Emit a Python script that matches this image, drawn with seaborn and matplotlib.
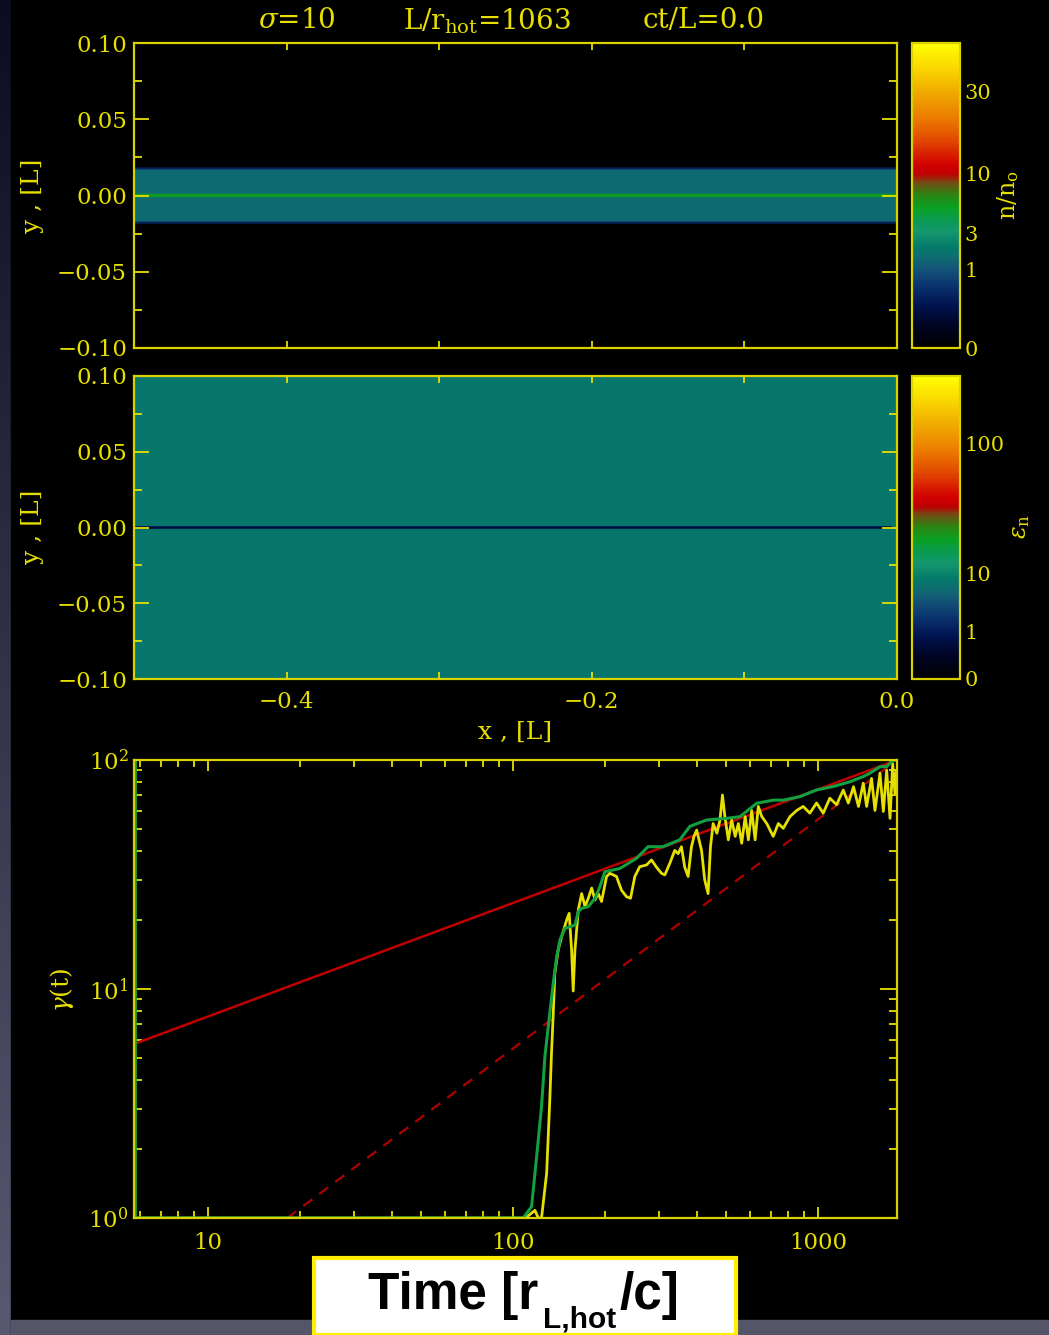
import numpy as np
import matplotlib
matplotlib.use("Agg")
import matplotlib.pyplot as plt
import matplotlib.colors as mcolors
from matplotlib.patches import Rectangle
from matplotlib.ticker import LogLocator, FuncFormatter, NullFormatter, FixedLocator
import seaborn as sns

# ---------------------------------------------------------------- data
# density layers across the current sheet (y in units of L)
dens_bounds = [-0.1, -0.0185, -0.0172, -0.0011, 0.0011, 0.0172, 0.0185, 0.1]
dens_values = [0.0, 0.3, 1.5, 5.5, 1.5, 0.3, 0.0]
dens_vmax = 49.0
dens_ticks = [0, 1, 3, 10, 30]
dens_ticklabels = ["0", "1", "3", "10", "30"]

# mean particle energy layers
eps_bounds = [-0.1, -0.0009, 0.0009, 0.1]
eps_values = [8.0, 0.5, 8.0]
eps_sheet_xend = -0.004
eps_vmax = 205.0
eps_ticks = [0, 1, 3, 10, 30, 100]
eps_ticklabels = ["0", "1", "", "10", "", "100"]

color_power = 0.35

x_ticks_major = [-0.4, -0.2, 0.0]
x_ticks_minor = [-0.3, -0.1]
y_ticks_major = [-0.1, -0.05, 0.0, 0.05, 0.1]
y_ticks_minor = [-0.075, -0.025, 0.025, 0.075]

# Lorentz factor histories
t_envelope = [5.78, 5.78, 108, 115, 119.5, 124, 127.2, 132, 135.5, 139, 142.6, 148,
              153.7, 159.6, 163.7, 167.9, 176.5, 185.7, 192.8, 200, 224, 254, 277,
              310, 352, 380, 431, 502, 555, 629, 713, 769, 873, 989, 1122, 1273,
              1407, 1480, 1596, 1679, 1743, 1787, 1815]
gamma_envelope = [100, 1.0, 1.0, 1.12, 1.85, 3.06, 5.06, 7.83, 10.6, 13.8, 16.4, 18.4,
                  18.7, 19.0, 21.8, 22.5, 22.9, 24.9, 28.0, 32.5, 33.6, 37.2, 41.8,
                  41.8, 44.8, 51.3, 54.7, 55.6, 56.6, 64.7, 66.8, 66.8, 69.2, 74.0,
                  76.6, 80.4, 84.7, 87.6, 93.5, 93.5, 98.5, 100, 100]

t_particle = [5.72, 108, 112, 118, 121, 124, 128.9, 132, 133.7, 135.5, 137.1, 140.6,
              144.3, 149.9, 152.8, 155.6, 157.5, 159.6, 163.7, 167.9, 172.2, 176.5,
              181.1, 185.7, 190.3, 195.1, 202.6, 207.8, 218.4, 226.8, 235.5, 242.8,
              250.8, 260.3, 273.9, 284.5, 295.5, 306.7, 314.6, 326.6, 339, 347.8,
              356.6, 365.6, 375, 384.6, 392, 400, 415, 425, 436, 444, 453, 466, 477,
              486, 495, 508, 521, 535, 548, 562, 577, 591, 606, 622, 637, 654, 679,
              713, 741, 769, 809, 851, 894, 940, 989, 1040, 1093, 1150, 1210, 1257,
              1307, 1357, 1407, 1443, 1498, 1537, 1596, 1637, 1679, 1722, 1757,
              1787, 1808]
gamma_particle = [1.0, 1.0, 1.02, 1.08, 1.0, 1.0, 1.57, 3.28, 5.24, 7.83, 11.7, 14.8,
                  16.9, 20.0, 21.4, 14.8, 9.8, 14.8, 22.2, 26.1, 22.9, 24.9,
                  27.6, 24.5, 26.1, 24.1, 31.0, 32.0, 31.0, 27.0, 25.3, 24.9,
                  31.0, 34.2, 34.8, 36.6, 34.0, 32.0, 31.5, 35.4, 40.3, 39.0,
                  41.8, 34.0, 31.0, 41.8, 46.4, 49.4, 40.3, 30.0, 26.1, 41.8, 52.8, 47.9,
                  54.7, 70.3, 56.6, 44.8, 54.7, 46.4, 52.8, 43.3, 56.6, 44.8, 60.2, 44.8,
                  62.7, 56.6, 52.8, 46.4, 52.8, 50.3, 56.6, 60.2, 62.7, 58.6, 64.9, 58.6,
                  68.1, 63.8, 73.9, 64.9, 76.4, 62.7, 79.2, 62.7, 83.1, 60.2, 87.6,
                  59.6, 90.2, 55.6, 96.2, 71.6, 90.2]

# reference power laws (endpoints)
t_sqrt_law = [5.72, 1815]
gamma_sqrt_law = [5.75, 100]
t_linear_law = [18.2, 1815]
gamma_linear_law = [1.0, 100]

# ---------------------------------------------------------------- style
sns.set_theme(style="dark")
plt.rcParams["font.family"] = ["DejaVu Serif", "DejaVu Sans"]
plt.rcParams["mathtext.fontset"] = "dejavuserif"

YEL = "#e6df00"
SPINE = "#d9d200"

W, H = 1049, 1335


def fx(px):
    return px / W


def fy(py):
    return 1 - py / H


cmap = mcolors.LinearSegmentedColormap.from_list("idl_like", [
    (0.00, (0, 0, 0)),
    (0.08, (0, 5 / 255, 40 / 255)),
    (0.14, (0, 20 / 255, 80 / 255)),
    (0.20, (10 / 255, 50 / 255, 110 / 255)),
    (0.26, (20 / 255, 85 / 255, 120 / 255)),
    (0.30, (14 / 255, 110 / 255, 112 / 255)),
    (0.33, (4 / 255, 122 / 255, 106 / 255)),
    (0.38, (20 / 255, 150 / 255, 110 / 255)),
    (0.42, (10 / 255, 155 / 255, 80 / 255)),
    (0.46, (10 / 255, 160 / 255, 35 / 255)),
    (0.50, (40 / 255, 135 / 255, 20 / 255)),
    (0.54, (110 / 255, 80 / 255, 20 / 255)),
    (0.57, (190 / 255, 0, 0)),
    (0.60, (210 / 255, 0, 0)),
    (0.68, (225 / 255, 70 / 255, 0)),
    (0.75, (235 / 255, 120 / 255, 0)),
    (0.84, (240 / 255, 170 / 255, 0)),
    (0.92, (250 / 255, 215 / 255, 0)),
    (1.00, (1, 1, 0)),
])

fig = plt.figure(figsize=(W / 100, H / 100), dpi=100)
fig.patch.set_facecolor("#4a4a5e")

# page background: soft grey-blue gradient with a black stage
bg = fig.add_axes([0, 0, 1, 1], zorder=-10)
grad = np.linspace(0, 1, 256).reshape(-1, 1)
bg.imshow(grad, aspect="auto", extent=[0, 1, 0, 1], origin="upper",
          cmap=mcolors.LinearSegmentedColormap.from_list("bg", ["#0c0c22", "#585870"]))
bg.add_patch(Rectangle((fx(11), 0), 1, 1, color="black", transform=bg.transAxes))
bg.add_patch(Rectangle((fx(11), 0), 1, fy(1320), color="#55556a", transform=bg.transAxes))
bg.set_xlim(0, 1)
bg.set_ylim(0, 1)
bg.axis("off")


def style_axes(ax):
    ax.set_facecolor("black")
    ax.grid(False)
    for s in ax.spines.values():
        s.set_color(SPINE)
        s.set_linewidth(1.6)
        s.set_visible(True)


def field(bounds, values, nx=500, ny=1001, sheet_xend=None, bg_value=None):
    y = np.linspace(-0.1, 0.1, ny)
    x = np.linspace(-0.5, 0.0, nx)
    idx = np.clip(np.searchsorted(bounds, y, side="right") - 1, 0, len(values) - 1)
    rows = np.asarray(values)[idx]
    f = np.tile(rows[:, None], (1, nx))
    if sheet_xend is not None:
        f[:, x > sheet_xend] = bg_value
    return f


def map_panel(ax, data, vmax):
    norm = mcolors.FuncNorm((lambda v: np.power(np.clip(v, 0, None), color_power),
                             lambda v: np.power(np.clip(v, 0, None), 1 / color_power)),
                            vmin=0, vmax=vmax)
    im = ax.imshow(data, origin="lower", extent=[-0.5, 0.0, -0.1, 0.1], aspect="auto",
                   cmap=cmap, norm=norm, interpolation="bilinear")
    ax.set_xlim(-0.5, 0.0)
    ax.set_ylim(-0.1, 0.1)
    style_axes(ax)
    ax.yaxis.set_major_locator(FixedLocator(y_ticks_major))
    ax.yaxis.set_minor_locator(FixedLocator(y_ticks_minor))
    ax.set_yticklabels([f"{v:.2f}".replace("-", "\u2212") for v in y_ticks_major])
    ax.xaxis.set_major_locator(FixedLocator(x_ticks_major))
    ax.xaxis.set_minor_locator(FixedLocator(x_ticks_minor))
    ax.tick_params(axis="y", which="major", direction="in", length=11, width=1.3,
                   left=True, right=True, colors=YEL, labelsize=16.5, pad=5)
    ax.tick_params(axis="y", which="minor", direction="in", length=6, width=1.3,
                   left=True, right=True, colors=YEL)
    ax.tick_params(axis="x", which="both", direction="in", length=5, width=1.3,
                   top=True, bottom=True, colors=YEL, labelsize=16.5, pad=9)
    return im


def colorbar(im, rect, ticks, labels, label, label_xy):
    cax = fig.add_axes(rect)
    cb = fig.colorbar(im, cax=cax)
    cb.minorticks_off()
    cb.set_ticks(ticks)
    cb.set_ticklabels(labels)
    cb.outline.set_edgecolor(SPINE)
    cb.outline.set_linewidth(1.6)
    cax.tick_params(which="both", direction="in", left=True, right=True, length=7,
                    width=1.3, colors=YEL, labelsize=15, pad=3)
    fig.text(fx(label_xy[0]), fy(label_xy[1]), label, rotation=90, color=YEL,
             fontsize=17, ha="center", va="center")


# ---------------------------------------------------------------- density map
ax1 = fig.add_axes([fx(134), fy(348), fx(897 - 134), (348 - 43) / H])
im1 = map_panel(ax1, field(dens_bounds, dens_values), dens_vmax)
ax1.set_xticklabels([])
colorbar(im1, [fx(912), fy(348), fx(960 - 912), (348 - 43) / H],
         dens_ticks, dens_ticklabels, r"n/n$_{\rm o}$", (1008, 195))

# ---------------------------------------------------------------- energy map
ax2 = fig.add_axes([fx(134), fy(679), fx(897 - 134), (679 - 376) / H])
im2 = map_panel(ax2, field(eps_bounds, eps_values, sheet_xend=eps_sheet_xend,
                           bg_value=eps_values[0]), eps_vmax)
ax2.set_xticklabels(["\u22120.4", "\u22120.2", "0.0"])
colorbar(im2, [fx(912), fy(679), fx(960 - 912), (679 - 376) / H],
         eps_ticks, eps_ticklabels, r"$\epsilon_{\rm n}$", (1020, 527))

for yc in (196, 527):
    fig.text(fx(32), fy(yc), "y , [L]", rotation=90, color=YEL, fontsize=18,
             ha="center", va="center")
fig.text(fx(515), fy(732), "x , [L]", color=YEL, fontsize=18, ha="center", va="center")

# title line
fig.text(fx(297), fy(20), r"$\sigma$=10", color=YEL, fontsize=20, ha="center", va="center")
fig.text(fx(487), fy(21), r"L/r$_{\rm hot}$=1063", color=YEL, fontsize=20,
         ha="center", va="center")
fig.text(fx(704), fy(20), "ct/L=0.0", color=YEL, fontsize=20, ha="center", va="center")

# ---------------------------------------------------------------- gamma(t)
ax3 = fig.add_axes([fx(134), fy(1218), fx(897 - 134), (1218 - 760) / H])
style_axes(ax3)
ax3.set_xscale("log")
ax3.set_yscale("log")

sns.lineplot(x=t_linear_law, y=gamma_linear_law, ax=ax3, color="#b00000", lw=1.6,
             linestyle=(0, (5, 4)), estimator=None, sort=False)
sns.lineplot(x=t_sqrt_law, y=gamma_sqrt_law, ax=ax3, color="#c00000", lw=1.8,
             estimator=None, sort=False)
sns.lineplot(x=t_particle, y=gamma_particle, ax=ax3, color="#e6e000", lw=2.0,
             estimator=None, sort=False)
sns.lineplot(x=t_envelope, y=gamma_envelope, ax=ax3, color="#12a040", lw=2.2,
             estimator=None, sort=False)

ax3.set_xlim(5.72, 1815)
ax3.set_ylim(1, 100)
ax3.set_xlabel("")
ax3.set_ylabel("")
ax3.xaxis.set_major_locator(LogLocator(base=10, numticks=10))
ax3.xaxis.set_minor_locator(LogLocator(base=10, subs=np.arange(2, 10), numticks=20))
ax3.xaxis.set_major_formatter(FuncFormatter(lambda v, p: f"{v:g}"))
ax3.xaxis.set_minor_formatter(NullFormatter())
ax3.yaxis.set_major_locator(LogLocator(base=10, numticks=10))
ax3.yaxis.set_minor_locator(LogLocator(base=10, subs=np.arange(2, 10), numticks=20))
ax3.yaxis.set_major_formatter(FuncFormatter(
    lambda v, p: rf"$10^{{{int(round(np.log10(v)))}}}$"))
ax3.yaxis.set_minor_formatter(NullFormatter())
ax3.tick_params(axis="x", which="major", direction="in", length=8, width=1.3,
                top=True, bottom=True, colors=YEL, labelsize=16.5, pad=10)
ax3.tick_params(axis="x", which="minor", direction="in", length=5, width=1.3,
                top=True, bottom=True, colors=YEL)
ax3.tick_params(axis="y", which="major", direction="in", length=12, width=1.3,
                left=True, right=True, colors=YEL, labelsize=16.5, pad=4)
ax3.tick_params(axis="y", which="minor", direction="in", length=6, width=1.3,
                left=True, right=True, colors=YEL)
fig.text(fx(62), fy(990), r"$\gamma$(t)", rotation=90, color=YEL, fontsize=18,
         ha="center", va="center")

# time axis caption box
fig.add_artist(Rectangle((fx(314), 0), fx(736 - 314), (1335 - 1258) / H,
                         transform=fig.transFigure, facecolor="white",
                         edgecolor="#ffee00", linewidth=3, zorder=5))
cap = dict(family="Liberation Sans", weight="bold", color="black", va="baseline",
           ha="left", zorder=6)
fig.text(fx(368), fy(1309), "Time [r", fontsize=37, **cap)
fig.text(fx(543), fy(1327), "L,hot", fontsize=21.5, **cap)
fig.text(fx(620), fy(1309), "/c]", fontsize=37, **cap)

fig.savefig("out.png", dpi=100, facecolor=fig.get_facecolor())
